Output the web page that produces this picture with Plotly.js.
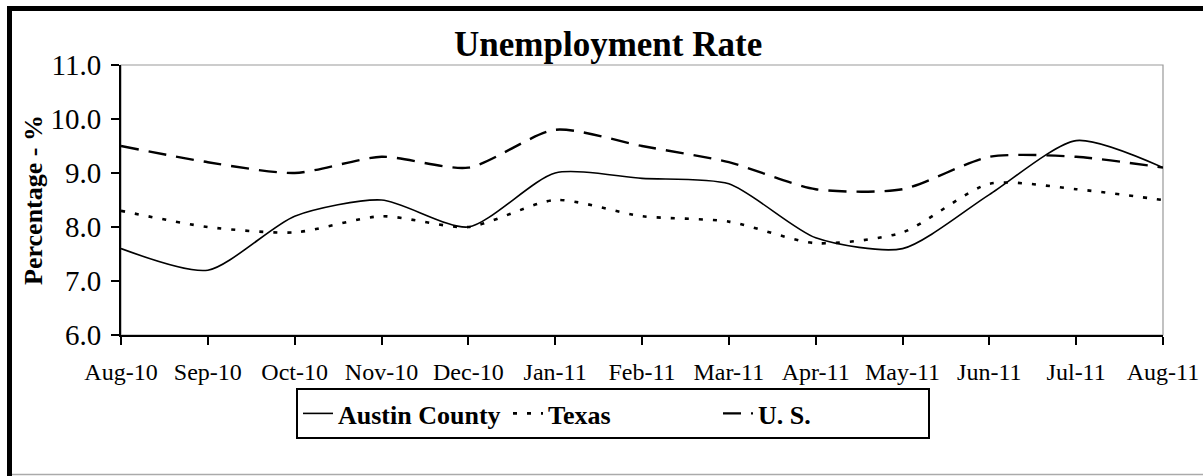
<!DOCTYPE html>
<html>
<head>
<meta charset="utf-8">
<script src="https://cdn.plot.ly/plotly-3.0.1.min.js"></script>
<style>
html,body{margin:0;padding:0;background:#fff;overflow:hidden;}
#chart{width:1203px;height:476px;}
</style>
</head>
<body>
<div id="chart"></div>
<script>
const months = ["Aug-10","Sep-10","Oct-10","Nov-10","Dec-10","Jan-11","Feb-11","Mar-11","Apr-11","May-11","Jun-11","Jul-11","Aug-11"];
const austinCounty = [7.6, 7.2, 8.2, 8.5, 8.0, 9.0, 8.9, 8.8, 7.8, 7.6, 8.6, 9.6, 9.1];
const texas        = [8.3, 8.0, 7.9, 8.2, 8.0, 8.5, 8.2, 8.1, 7.7, 7.9, 8.8, 8.7, 8.5];
const us           = [9.5, 9.2, 9.0, 9.3, 9.1, 9.8, 9.5, 9.2, 8.7, 8.7, 9.3, 9.3, 9.1];
const yTicks = [6, 7, 8, 9, 10, 11];

const serif = "Liberation Serif, Times New Roman, serif";

const traces = [
  {x: months, y: austinCounty, name: "<b>Austin County</b>", type: "scatter", mode: "lines",
   line: {color: "#000", width: 1.6, shape: "spline", smoothing: 0.7}},
  {x: months, y: texas, name: "<b>Texas</b>", type: "scatter", mode: "lines",
   line: {color: "#000", width: 2.6, dash: "4px,10px", shape: "spline", smoothing: 0.7}},
  {x: months, y: us, name: "<b>U. S.</b>", type: "scatter", mode: "lines",
   line: {color: "#000", width: 2.4, dash: "18px,10px", shape: "spline", smoothing: 0.7}}
];

const W = 1042, H = 270, L = 121, B = 335;
const px = v => (v - L) / W;
const py = v => (B - v) / H;

const layout = {
  width: 1203, height: 476,
  margin: {l: 121, r: 40, t: 65, b: 141},
  paper_bgcolor: "#fff", plot_bgcolor: "#fff",
  font: {family: serif, color: "#000"},
  title: {text: "<b>Unemployment Rate</b>", font: {family: serif, size: 35, color: "#000"},
          xref: "container", x: 0.5055, xanchor: "center",
          yref: "container", y: 1 - 44/476, yanchor: "middle"},
  xaxis: {type: "category", range: [0, 12], showgrid: false, zeroline: false,
          showline: true, linecolor: "#000", linewidth: 2,
          ticks: "outside", ticklen: 8, tickwidth: 2, tickcolor: "#000",
          tickfont: {family: serif, size: 24, color: "#000"}, ticklabelstandoff: 6,
          fixedrange: true},
  yaxis: {range: [6, 11], tickvals: yTicks, tickformat: ".1f", showgrid: false, zeroline: false,
          showline: true, linecolor: "#000", linewidth: 2,
          ticks: "outside", ticklen: 8, tickwidth: 2, tickcolor: "#000",
          tickfont: {family: serif, size: 29, color: "#000"}, ticklabelstandoff: 4,
          title: {text: "<b>Percentage - %</b>", font: {family: serif, size: 26, color: "#000"}, standoff: 0},
          automargin: false, fixedrange: true},
  showlegend: true,
  legend: {orientation: "h", xref: "paper", x: px(613), xanchor: "center",
           yref: "paper", y: py(388), yanchor: "top",
           bordercolor: "#000", borderwidth: 2, bgcolor: "#fff",
           font: {family: serif, size: 26, color: "#000"},
           itemwidth: 30, entrywidth: 165, entrywidthmode: "pixels", tracegroupgap: 0},
  shapes: [
    {type: "rect", xref: "paper", yref: "paper", x0: 0, x1: 1, y0: 0, y1: 1,
     line: {color: "#999", width: 1.2}, layer: "below"},
    {type: "line", xref: "paper", yref: "paper", x0: px(9.5), x1: px(9.5), y0: py(6), y1: py(480),
     line: {color: "#000", width: 5}},
    {type: "line", xref: "paper", yref: "paper", x0: px(7), x1: px(1210), y0: py(8.5), y1: py(8.5),
     line: {color: "#000", width: 5}},
    {type: "line", xref: "paper", yref: "paper", x0: px(12), x1: px(1210), y0: py(474.5), y1: py(474.5),
     line: {color: "#aaa", width: 1.5}}
  ]
};

Plotly.newPlot("chart", traces, layout, {staticPlot: true, displayModeBar: false});
</script>
</body>
</html>
